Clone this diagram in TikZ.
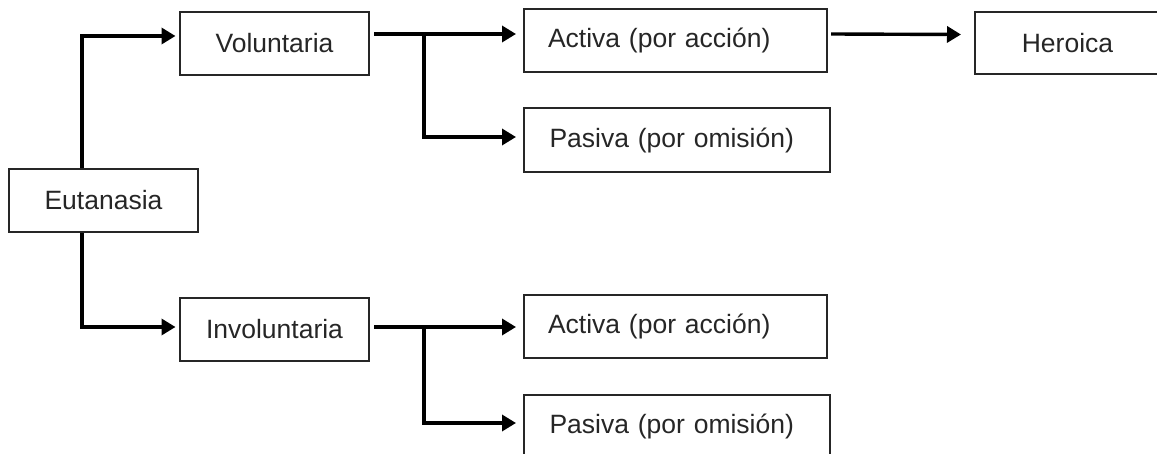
\documentclass[tikz,border=0pt]{standalone}
\usepackage{fontspec}
\setmainfont{Liberation Sans}
\usetikzlibrary{arrows.meta}
\usetikzlibrary{positioning}
\usetikzlibrary{calc}
\tikzstyle{box}=[draw=black!85,line width=2pt,rectangle,minimum height=63pt,text=black!85,inner sep=0pt]
\tikzstyle{wide}=[minimum width=303pt,inner xsep=24pt,text width=255pt,align=left]
\tikzstyle{link}=[line width=3.4pt,-{Triangle[length=14pt,width=16pt]}]

\begin{document}
\begin{tikzpicture}[x=1pt,y=-1pt,font=\fontsize{26.5}{31}\selectfont]
\clip (0,0) rectangle (1157,454);
    \node [box,minimum width=189pt] (eut) at (103.5,200.5) {Eutanasia};
    \node [box,minimum width=189pt] (vol) at (274.5,43.5) {Voluntaria};
    \node [box,minimum width=189pt] (inv) at (274.5,329.5) {Involuntaria};
    \node [box,wide] (vact) at (675.5,40.5) {Activa (por acción)};
    \node [box,wide,minimum width=306pt,minimum height=64pt] (vpas) at (677,140) {Pasiva (por omisión)};
    \node [box,minimum width=185pt,minimum height=62pt] (her) at (1067.5,43) {Heroica};
    \node [box,wide] (iact) at (675.5,326.5) {Activa (por acción)};
    \node [box,wide,minimum width=306pt] (ipas) at (677,426.5) {Pasiva (por omisión)};

% trunk out of Eutanasia
\draw [link] ($(eut.north)+(-21.5,0)$) |- ($(vol.west)+(-3.5,-7.5)$);
\draw [link] ($(eut.south)+(-21.5,0)$) |- ($(inv.west)+(-3.5,-2.5)$);

% Voluntaria branch
\coordinate (vsplit) at ($(vol.east)+(54,-9.5)$);
\draw [link] ($(vol.east)+(4,-9.5)$) -- ($(vact.west)+(-7,-6.5)$);
\draw [link] (vsplit) |- ($(vpas.west)+(-7,-3)$);
\draw [link] ($(vact.east)+(3,-6.5)$) -- ($(her.west)+(-13,-8.5)$);

% Involuntaria branch
\coordinate (isplit) at ($(inv.east)+(54,-2.5)$);
\draw [link] ($(inv.east)+(4,-2.5)$) -- ($(iact.west)+(-7,0.5)$);
\draw [link] (isplit) |- ($(ipas.west)+(-7,-3.5)$);
\end{tikzpicture}
\end{document}
